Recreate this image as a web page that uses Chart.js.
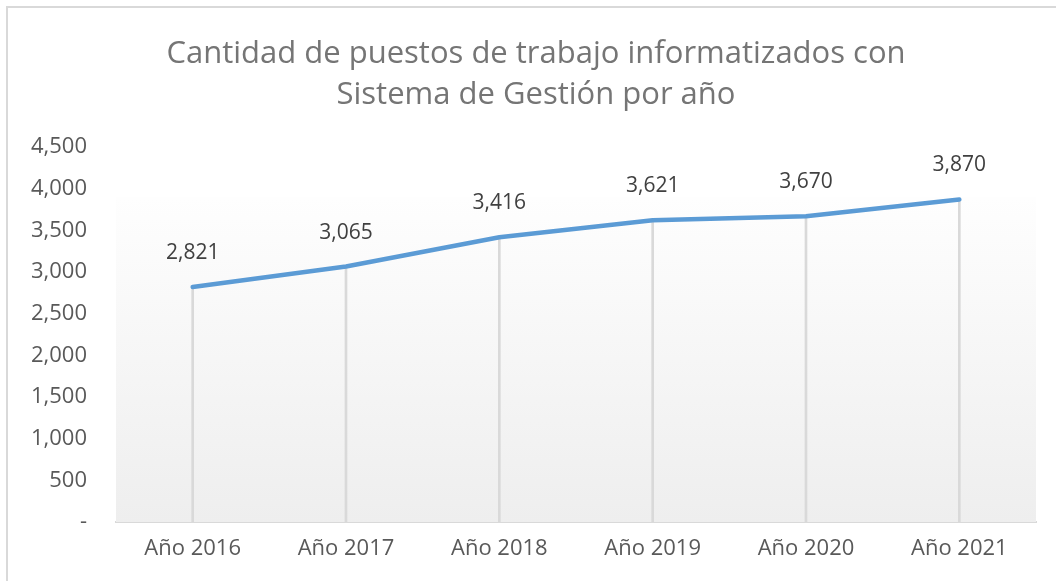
<!DOCTYPE html>
<html>
<head>
<meta charset="utf-8">
<script src="https://cdn.jsdelivr.net/npm/chart.js@4/dist/chart.umd.min.js"></script>
<style>
  html, body { margin: 0; padding: 0; background: #fff; overflow: hidden; width: 1056px; height: 581px; }
  #frame { position: absolute; left: 6px; top: 6px; width: 1200px; height: 700px; border: 2px solid #d9d9d9; box-sizing: border-box; }
  #wrap { position: absolute; left: 0; top: 0; width: 1056px; height: 581px; }
</style>
</head>
<body>
<div id="frame"></div>
<div id="wrap"><canvas id="c" width="1056" height="581"></canvas></div>
<script>
// ---- data ----
const categories = ['Año 2016', 'Año 2017', 'Año 2018', 'Año 2019', 'Año 2020', 'Año 2021'];
const puestos = [2821, 3065, 3416, 3621, 3670, 3870];
const yTicks = [0, 500, 1000, 1500, 2000, 2500, 3000, 3500, 4000, 4500];
const titleLines = ['Cantidad de puestos de trabajo informatizados con', 'Sistema de Gestión por año'];

const FONT = "'Open Sans', 'Liberation Sans', sans-serif";
const fmt = v => v === 0 ? '-' : v.toLocaleString('en-US');

const plotFillPlugin = {
  id: 'plotFill',
  beforeDatasetsDraw(chart) {
    const { ctx, chartArea: a } = chart;
    const top = a.top + (a.bottom - a.top) * 0.133;
    const g = ctx.createLinearGradient(0, top, 0, a.bottom);
    g.addColorStop(0, '#fefefe');
    g.addColorStop(1, '#eeeeee');
    ctx.save();
    ctx.fillStyle = g;
    ctx.fillRect(a.left, top, a.right - a.left, a.bottom - top);
    ctx.restore();
  }
};

const dataLabelPlugin = {
  id: 'dataLabels',
  afterDatasetsDraw(chart) {
    const { ctx } = chart;
    const meta = chart.getDatasetMeta(1);
    ctx.save();
    ctx.font = '21px ' + FONT;
    ctx.fillStyle = '#404040';
    ctx.textAlign = 'center';
    ctx.textBaseline = 'middle';
    meta.data.forEach((pt, i) => {
      ctx.fillText(fmt(puestos[i]), pt.x, pt.y - 34);
    });
    ctx.restore();
  }
};

new Chart(document.getElementById('c'), {
  data: {
    labels: categories,
    datasets: [
      {
        type: 'bar',
        data: puestos,
        backgroundColor: '#d9d9d9',
        barThickness: 2,
        order: 2
      },
      {
        type: 'line',
        data: puestos,
        borderColor: '#5b9bd5',
        borderWidth: 4.5,
        pointRadius: 0,
        tension: 0,
        borderCapStyle: 'round',
        borderJoinStyle: 'round',
        order: 1
      }
    ]
  },
  options: {
    responsive: false,
    animation: false,
    events: [],
    layout: { padding: { left: 16, right: 0, top: 0, bottom: 0 } },
    plugins: {
      legend: { display: false },
      tooltip: { enabled: false },
      title: {
        display: true,
        text: titleLines,
        color: '#757575',
        font: { family: FONT, size: 31, weight: 'normal', lineHeight: '41px' },
        padding: { top: 34, bottom: 31 }
      }
    },
    scales: {
      x: {
        offset: true,
        grid: { display: false, drawTicks: false },
        border: { display: true, color: '#d9d9d9', width: 2 },
        ticks: { color: '#595959', font: { family: FONT, size: 22 }, padding: 14, maxRotation: 0 },
        afterFit: s => { s.height = 59; }
      },
      y: {
        min: 0,
        max: 4500,
        afterBuildTicks: s => { s.ticks = yTicks.map(v => ({ value: v })); },
        grid: { display: false, drawTicks: false },
        border: { display: false },
        ticks: { color: '#595959', font: { family: FONT, size: 22 }, padding: 29, callback: v => fmt(v) },
        afterFit: s => { s.width = 100; }
      },
      yRight: {
        position: 'right',
        min: 0,
        max: 4500,
        grid: { display: false, drawTicks: false },
        border: { display: false },
        ticks: { display: false },
        afterFit: s => { s.width = 20; }
      }
    }
  },
  plugins: [plotFillPlugin, dataLabelPlugin]
});
</script>
</body>
</html>
